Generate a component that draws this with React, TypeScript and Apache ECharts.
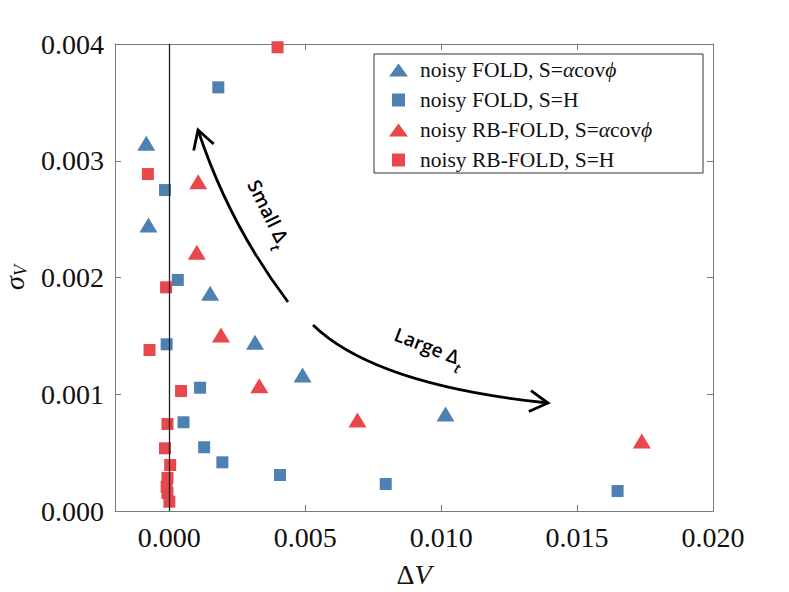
import React, { useEffect, useRef } from "react";
import * as echarts from "echarts";

const xTicks = [0, 0.005, 0.01, 0.015, 0.02];
const yTicks = [0, 0.001, 0.002, 0.003, 0.004];

const seriesNames = [
  "noisy FOLD, S=αcovϕ",
  "noisy FOLD, S=H",
  "noisy RB-FOLD, S=αcovϕ",
  "noisy RB-FOLD, S=H",
];

const blueTriX = [-0.00085, -0.00077, 0.0015, 0.00315, 0.0049, 0.01016];
const blueTriY = [0.00315, 0.00245, 0.001865, 0.001445, 0.001165, 0.00083];

const blueSqX = [0.0018, -0.00016, 0.00031, -0.0001, 0.00113, 0.00052, 0.00128, 0.00195, 0.00407, 0.00796, 0.01649];
const blueSqY = [0.003629, 0.002749, 0.001979, 0.001428, 0.001056, 0.00076, 0.000546, 0.000417, 0.000308, 0.000231, 0.000171];

const redTriX = [0.00106, 0.00101, 0.0019, 0.00331, 0.00692, 0.01738];
const redTriY = [0.002821, 0.002216, 0.001507, 0.001073, 0.000779, 0.0006];

const redSqX = [0.00398, -0.00079, -0.00012, -0.00073, 0.00043, -0.00007, -0.00016, 0.00003, -0.00007, -0.0001, -0.00007, 0.0];
const redSqY = [0.003972, 0.002886, 0.001916, 0.001379, 0.001028, 0.000745, 0.000537, 0.000394, 0.000283, 0.000207, 0.000154, 0.00008];

const BLUE = "#4E81B1";
const RED = "#E8474B";
const FRAME = "#7a7a7a";
const SERIF = "Liberation Serif";
const SANS = "Open Sans";

const zip = (xs: number[], ys: number[]) => xs.map((x, i) => [x, ys[i]]);

function arrowHead(tip: number[], from: number[], len = 21, ang = (30 * Math.PI) / 180) {
  const dx = from[0] - tip[0];
  const dy = from[1] - tip[1];
  const d = Math.hypot(dx, dy);
  const ux = dx / d;
  const uy = dy / d;
  const rot = (a: number) => [
    tip[0] + len * (ux * Math.cos(a) - uy * Math.sin(a)),
    tip[1] + len * (ux * Math.sin(a) + uy * Math.cos(a)),
  ];
  return [rot(ang), tip, rot(-ang)];
}

export default function App() {
  const ref = useRef<HTMLDivElement>(null);
  useEffect(() => {
    if (!ref.current) return;
    const chart = echarts.init(ref.current, undefined, { renderer: "svg" });

    const sP0 = [288, 302], sC = [229, 224], sP2 = [198, 130];
    const lP0 = [313, 325], lC = [375, 385], lP2 = [548, 403];
    const arrowStyle = { stroke: "#000", lineWidth: 2.8, fill: null as any };

    const richLabel = {
      a: { fontFamily: SANS, fontSize: 19, fontWeight: 600, color: "#111", lineHeight: 26, verticalAlign: "top" },
      s: { fontFamily: SANS, fontSize: 14, fontStyle: "italic", fontWeight: 600, color: "#111", lineHeight: 14, verticalAlign: "bottom" },
    };

    const legendRich = {
      r: { fontFamily: SERIF, fontSize: 21.5, color: "#111", lineHeight: 21 },
      i: { fontFamily: SERIF, fontSize: 21.5, fontStyle: "italic", color: "#111", lineHeight: 21 },
    };

    const fmtLegend = (name: string) => {
      const m = name.match(/^(.*S=)αcovϕ$/);
      if (m) return `{r|${m[1]}}{i|α}{r|cov}{i|ϕ}`;
      return `{r|${name}}`;
    };

    const axisCommon = {
      type: "value" as const,
      splitLine: { show: false },
      axisLine: { show: true, onZero: false, lineStyle: { color: FRAME, width: 1 } },
      axisTick: { show: true, inside: true, length: 6, lineStyle: { color: FRAME } },
    };

    chart.setOption({
      animation: false,
      backgroundColor: "#fff",
      textStyle: { fontFamily: SERIF },
      grid: { left: 115, right: 76, top: 44, bottom: 81, containLabel: false, outerBoundsMode: "none" },
      xAxis: [
        {
          ...axisCommon,
          min: -0.002,
          max: 0.02,
          position: "bottom",
          name: "{a|Δ}{b|V}",
          nameLocation: "middle",
          nameGap: 49,
          nameTextStyle: {
            fontFamily: SERIF,
            rich: {
              a: { fontFamily: SERIF, fontSize: 28, color: "#111" },
              b: { fontFamily: SERIF, fontSize: 28, fontStyle: "italic", color: "#111" },
            },
          },
          axisTick: { ...axisCommon.axisTick, customValues: xTicks },
          axisLabel: {
            customValues: xTicks,
            formatter: (v: number) => v.toFixed(3),
            fontFamily: SERIF,
            fontSize: 28,
            color: "#111",
            margin: 12,
          },
        },
        {
          ...axisCommon,
          min: -0.002,
          max: 0.02,
          position: "top",
          axisTick: { ...axisCommon.axisTick, customValues: xTicks },
          axisLabel: { show: false },
        },
      ],
      yAxis: [
        {
          ...axisCommon,
          min: 0,
          max: 0.004,
          position: "left",
          name: "{a|σ}{b|V}",
          nameLocation: "middle",
          nameRotate: 90,
          nameGap: 84,
          nameTextStyle: {
            fontFamily: SERIF,
            rich: {
              a: { fontFamily: SERIF, fontSize: 28, fontStyle: "italic", color: "#111", lineHeight: 30, verticalAlign: "top" },
              b: { fontFamily: SERIF, fontSize: 18, fontStyle: "italic", color: "#111", lineHeight: 18, verticalAlign: "bottom" },
            },
          },
          axisTick: { ...axisCommon.axisTick, customValues: yTicks },
          axisLabel: {
            customValues: yTicks,
            formatter: (v: number) => v.toFixed(3),
            fontFamily: SERIF,
            fontSize: 28,
            color: "#111",
            margin: 11,
          },
        },
        {
          ...axisCommon,
          min: 0,
          max: 0.004,
          position: "right",
          axisTick: { ...axisCommon.axisTick, customValues: yTicks },
          axisLabel: { show: false },
        },
      ],
      legend: {
        orient: "vertical",
        left: 389,
        top: 59,
        padding: 0,
        itemGap: 8,
        itemWidth: 19,
        itemHeight: 13,
        z: 10,
        formatter: fmtLegend,
        textStyle: { fontFamily: SERIF, rich: legendRich, padding: [0, 0, 0, 7] },
        data: [
          { name: seriesNames[0], icon: "triangle" },
          { name: seriesNames[1], icon: "path://M0,0h10v10h-10z" },
          { name: seriesNames[2], icon: "triangle" },
          { name: seriesNames[3], icon: "path://M0,0h10v10h-10z" },
        ],
      },
      series: [
        {
          name: seriesNames[0],
          type: "scatter",
          symbol: "triangle",
          symbolSize: [18, 15],
          itemStyle: { color: BLUE, opacity: 1 },
          data: zip(blueTriX, blueTriY),
          markLine: {
            silent: true,
            symbol: "none",
            label: { show: false },
            lineStyle: { color: "#222", width: 1.3, type: "solid" },
            data: [{ xAxis: 0 }],
          },
        },
        {
          name: seriesNames[1],
          type: "scatter",
          symbol: "rect",
          symbolSize: 12,
          itemStyle: { color: BLUE, opacity: 1 },
          data: zip(blueSqX, blueSqY),
        },
        {
          name: seriesNames[2],
          type: "scatter",
          symbol: "triangle",
          symbolSize: [18, 15],
          itemStyle: { color: RED, opacity: 1 },
          data: zip(redTriX, redTriY),
        },
        {
          name: seriesNames[3],
          type: "scatter",
          symbol: "rect",
          symbolSize: 12,
          itemStyle: { color: RED, opacity: 1 },
          data: zip(redSqX, redSqY),
        },
      ],
      graphic: [
        {
          type: "rect",
          z: 5,
          shape: { x: 374, y: 54, width: 329, height: 119 },
          style: { fill: "#fff", stroke: "#333", lineWidth: 1 },
        },
        {
          type: "bezierCurve",
          z: 6,
          shape: { x1: sP0[0], y1: sP0[1], x2: sP2[0], y2: sP2[1], cpx1: sC[0], cpy1: sC[1] },
          style: arrowStyle,
        },
        {
          type: "polyline",
          z: 6,
          shape: { points: arrowHead(sP2, sC) },
          style: arrowStyle,
        },
        {
          type: "bezierCurve",
          z: 6,
          shape: { x1: lP0[0], y1: lP0[1], x2: lP2[0], y2: lP2[1], cpx1: lC[0], cpy1: lC[1] },
          style: arrowStyle,
        },
        {
          type: "polyline",
          z: 6,
          shape: { points: arrowHead(lP2, lC) },
          style: arrowStyle,
        },
        {
          type: "text",
          z: 6,
          x: 266,
          y: 215,
          rotation: -1.107,
          style: {
            text: "{a|Small Δ}{s|t}",
            rich: richLabel,
            align: "center",
            verticalAlign: "middle",
          },
        },
        {
          type: "text",
          z: 6,
          x: 428,
          y: 350,
          rotation: -0.372,
          style: {
            text: "{a|Large Δ}{s|t}",
            rich: richLabel,
            align: "center",
            verticalAlign: "middle",
          },
        },
      ],
    });
    return () => chart.dispose();
  }, []);
  return (
    <div
      ref={ref}
      style={{ position: "fixed", left: 0, top: 0, width: 789, height: 592, background: "#fff" }}
    />
  );
}
